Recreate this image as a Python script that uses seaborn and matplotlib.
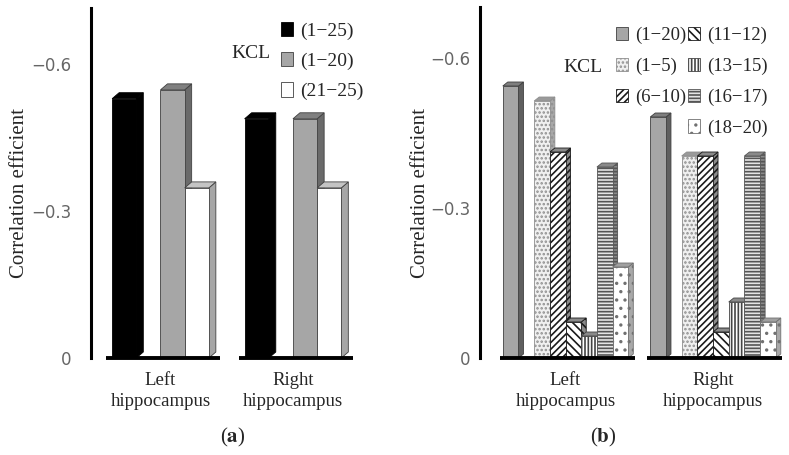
import numpy as np
import pandas as pd
import matplotlib
matplotlib.use("Agg")
import matplotlib.pyplot as plt
import seaborn as sns
from matplotlib.patches import Polygon, Rectangle

# Data (correlation values)
regions = ["Left\nhippocampus", "Right\nhippocampus"]

a_series = ["(1−25)", "(1−20)", "(21−25)"]
a_left = [-0.529, -0.547, -0.347]
a_right = [-0.488, -0.488, -0.347]

b_series = ["(1−20)", "(1−5)", "(6−10)", "(11−12)", "(13−15)", "(16−17)", "(18−20)"]
b_left = [-0.544, -0.514, -0.412, -0.072, -0.044, -0.382, -0.182]
b_right = [-0.482, -0.404, -0.404, -0.052, -0.112, -0.404, -0.072]

y_ticks = [0, -0.3, -0.6]
y_ticklabels = ["0", "−0.3", "−0.6"]

# Styles: face, side, top, hatch, edge
a_style = {
    "(1−25)": ("black", "black", "black", None, "black"),
    "(1−20)": ("#a6a6a6", "#6a6a6a", "#808080", None, "#404040"),
    "(21−25)": ("white", "#a6a6a6", "#c4c4c4", None, "#404040"),
}
b_style = {
    "(1−20)": ("#a6a6a6", "#5f5f5f", "#7f7f7f", None, "#404040"),
    "(1−5)": ("#f0f0f0", "#a8a8a8", "#9a9a9a", "....", "#8f8f8f"),
    "(6−10)": ("white", "#8a8a8a", "#8a8a8a", "/////", "#1a1a1a"),
    "(11−12)": ("white", "#8a8a8a", "#8a8a8a", "\\\\\\\\", "#1a1a1a"),
    "(13−15)": ("white", "#8a8a8a", "#8a8a8a", "|||||", "#444444"),
    "(16−17)": ("#e6e6e6", "#8a8a8a", "#8a8a8a", "-----", "#555555"),
    "(18−20)": ("white", "#a8a8a8", "#a0a0a0", "..", "#707070"),
}

sns.set_style("white")
plt.rcParams["font.family"] = ["Liberation Serif", "DejaVu Serif"]
plt.rcParams["hatch.linewidth"] = 1.2
plt.rcParams["mathtext.fontset"] = "stix"

fig = plt.figure(figsize=(7.89, 4.55), dpi=100)
W, H = 789, 455


def make_df(series, left, right):
    rows = []
    for s, l, r in zip(series, left, right):
        rows.append({"region": regions[0], "series": s, "value": l})
        rows.append({"region": regions[1], "series": s, "value": r})
    return pd.DataFrame(rows)


def draw_panel(rect, df, series, style, width, xlim, ylim, dx, dy, seg, pad):
    ax = fig.add_axes([rect[0] / W, 1 - rect[3] / H, (rect[2] - rect[0]) / W, (rect[3] - rect[1]) / H])
    # first series is followed by an empty slot
    order = [series[0], " "] + series[1:]
    palette = {s: style[s][0] for s in series}
    palette[" "] = "white"
    sns.barplot(data=df, x="region", y="value", hue="series", hue_order=order,
                order=regions, palette=palette, width=width, saturation=1,
                edgecolor="#404040", linewidth=0.6, legend=False, ax=ax)
    ax.set_xlim(*xlim)
    ax.set_ylim(*ylim)

    bars = []
    for s, cont in zip(order, ax.containers):
        if s not in style:
            continue
        face, side, top, hatch, edge = style[s]
        for p in cont.patches:
            p.set_edgecolor(edge)
            if hatch:
                p.set_hatch(hatch)
            bars.append((p, style[s]))

    # pseudo-3D faces
    inv = ax.transData.inverted()
    bars.sort(key=lambda t: t[0].get_x())
    for k, (p, st) in enumerate(bars):
        face, side, top, hatch, edge = st
        x0 = p.get_x()
        x1 = x0 + p.get_width()
        v = p.get_y() + p.get_height()
        (px0, py0), (px1, py1) = ax.transData.transform([(x0, 0), (x1, v)])
        top_pts = inv.transform([(px0, py1), (px1, py1), (px1 + dx, py1 + dy), (px0 + dx, py1 + dy)])
        side_pts = inv.transform([(px1, py0), (px1 + dx, py0 + dy), (px1 + dx, py1 + dy), (px1, py1)])
        z = 3 + k * 0.01
        ax.add_patch(Polygon(side_pts, closed=True, facecolor=side, edgecolor=edge,
                             hatch=hatch, linewidth=0.6, zorder=z, clip_on=False))
        ax.add_patch(Polygon(top_pts, closed=True, facecolor=top, edgecolor=edge,
                             linewidth=0.6, zorder=z + 0.003, clip_on=False))
        p.set_zorder(z + 0.006)

    # broken baseline under each group
    for i in range(len(regions)):
        ax.plot([i + seg[0], i + seg[1]], [0, 0], color="black", lw=2.8,
                solid_capstyle="butt", clip_on=False, zorder=5)

    sns.despine(ax=ax, bottom=True)
    ax.spines["left"].set_linewidth(2.2)
    ax.spines["left"].set_color("black")
    ax.set_yticks(y_ticks, y_ticklabels, fontfamily="DejaVu Sans", color="#666666", fontsize=12)
    ax.tick_params(axis="y", length=0, pad=pad)
    ax.tick_params(axis="x", length=0, pad=10, labelsize=13.5)
    for t in ax.get_xticklabels():
        t.set_linespacing(1.3)
    ax.set_xlabel("")
    ax.set_ylabel("Correlation efficient", fontsize=15)
    ax.set_facecolor("white")
    return ax


df_a = make_df(a_series, a_left, a_right)
df_b = make_df(b_series, b_left, b_right)

ax_a = draw_panel((91, 8, 360, 358), df_a, a_series, a_style, 0.73,
                  (-0.5245, 1.506), (0, -0.714), 7, 6, (-0.41, 0.45), 14)
ax_b = draw_panel((480, 7, 785, 358), df_b, b_series, b_style, 0.851,
                  (-0.58, 1.488), (0, -0.702), 5, 4, (-0.445, 0.47), 7)

ax_a.yaxis.set_label_coords(-0.23, 0.47)
ax_b.yaxis.set_label_coords(-0.163, 0.47)


def handles(series, style):
    out = []
    for s in series:
        face, side, top, hatch, edge = style[s]
        out.append(Rectangle((0, 0), 1, 1, facecolor=face, edgecolor=edge if face != "white" or hatch else "#404040",
                             hatch=hatch, linewidth=0.6, label=s))
    return out


leg_a = ax_a.legend(handles=handles(a_series, a_style), loc="upper left",
                    bbox_to_anchor=(281 / W, 1 - 22 / H), bbox_transform=fig.transFigure,
                    frameon=False, fontsize=14, borderpad=0, borderaxespad=0,
                    handlelength=0.62, handleheight=0.75, handletextpad=0.35, labelspacing=0.63)

hb = handles(b_series, b_style)
blank = Rectangle((0, 0), 1, 1, visible=False, label=" ")
hb = hb[:3] + [blank] + hb[3:]
leg_b = ax_b.legend(handles=hb, loc="upper left", ncol=2,
                    bbox_to_anchor=(616 / W, 1 - 27 / H), bbox_transform=fig.transFigure,
                    frameon=False, fontsize=13.5, borderpad=0, borderaxespad=0,
                    handlelength=0.65, handleheight=0.72, handletextpad=0.35,
                    labelspacing=0.72, columnspacing=0.1)

fig.text(251 / W, 1 - 53 / H, "KCL", ha="center", va="center", fontsize=14)
fig.text(583 / W, 1 - 67 / H, "KCL", ha="center", va="center", fontsize=14)

fig.text(233 / W, 1 - 437 / H, r"($\mathbf{a}$)", ha="center", va="center", fontsize=15)
fig.text(603 / W, 1 - 437 / H, r"($\mathbf{b}$)", ha="center", va="center", fontsize=15)

fig.savefig("out.png", dpi=100, facecolor="white")
